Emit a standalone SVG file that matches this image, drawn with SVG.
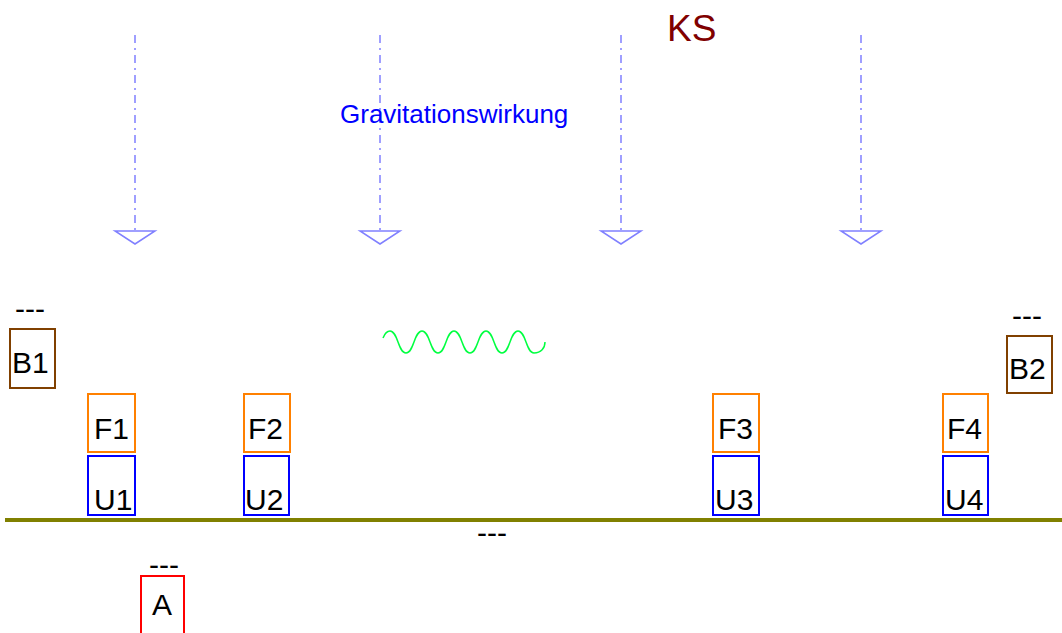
<svg xmlns="http://www.w3.org/2000/svg" width="1062" height="633" viewBox="0 0 1062 633">
<style>
text{font-family:"Liberation Sans",Arial,sans-serif;fill:#000}
.lbl{font-size:30px}
.dash{font-size:30px}
.g{stroke:#8080ff;stroke-width:1.5;fill:none}
.gl{stroke-dasharray:8,5,2,5}
.f{fill:#fff;stroke:#ff8000;stroke-width:2}
.u{fill:#fff;stroke:#0000ff;stroke-width:2}
.b{fill:#fff;stroke:#804000;stroke-width:2}
.a{fill:#fff;stroke:#ff0000;stroke-width:2}
</style>
<rect width="1062" height="633" fill="#fff"/>
<g id="connectors">
<line class="g gl" x1="135" y1="35" x2="135" y2="232"/>
<polygon class="g" points="115,231 155,231 135,244"/>
<line class="g gl" x1="380" y1="35" x2="380" y2="232"/>
<polygon class="g" points="360,231 400,231 380,244"/>
<line class="g gl" x1="621" y1="35" x2="621" y2="232"/>
<polygon class="g" points="601,231 641,231 621,244"/>
<line class="g gl" x1="861" y1="35" x2="861" y2="232"/>
<polygon class="g" points="841,231 881,231 861,244"/>
</g>
<g id="KS"><text x="667" y="41" style="font-size:37px;fill:#800000">KS</text></g>
<g id="gravitation"><text x="340" y="123" style="font-size:26px;fill:#0000ff">Gravitationswirkung</text></g>
<g id="wave"><path d="M383,338 C385,333 387,331 390,331 C398,331 398,353 406,353 C414,353 414,331 422,331 C430,331 430,353 438,353 C446,353 446,331 454,331 C462,331 462,353 470,353 C478,353 478,331 486,331 C494,331 494,353 502,353 C510,353 510,331 518,331 C526,331 526,353 534,353 C541,353 545,348 545,342" fill="none" stroke="#00ff40" stroke-width="1.5"/></g>
<g id="ground">
<line x1="5" y1="520" x2="1062" y2="520" stroke="#808000" stroke-width="4"/>
<text class="dash" x="477" y="543">---</text>
</g>
<g id="B1"><text class="dash" x="15" y="319">---</text><rect class="b" x="10" y="329" width="45" height="59"/><text class="lbl" x="12" y="373">B1</text></g>
<g id="B2"><text class="dash" x="1012" y="326">---</text><rect class="b" x="1007" y="336" width="45" height="57"/><text class="lbl" x="1009" y="379">B2</text></g>
<g id="F1"><rect class="f" x="88" y="394" width="47" height="58"/><text class="lbl" x="94" y="439">F1</text></g>
<g id="U1"><rect class="u" x="88" y="456" width="47" height="59"/><text class="lbl" x="94" y="510">U1</text></g>
<g id="F2"><rect class="f" x="244" y="394" width="46" height="58"/><text class="lbl" x="248" y="439">F2</text></g>
<g id="U2"><rect class="u" x="244" y="456" width="45" height="59"/><text class="lbl" x="245" y="510">U2</text></g>
<g id="F3"><rect class="f" x="713" y="394" width="46" height="58"/><text class="lbl" x="718" y="439">F3</text></g>
<g id="U3"><rect class="u" x="713" y="456" width="46" height="59"/><text class="lbl" x="715" y="510">U3</text></g>
<g id="F4"><rect class="f" x="943" y="394" width="45" height="58"/><text class="lbl" x="947" y="439">F4</text></g>
<g id="U4"><rect class="u" x="943" y="456" width="45" height="59"/><text class="lbl" x="945" y="510">U4</text></g>
<g id="A"><text class="dash" x="149" y="575">---</text><rect class="a" x="141" y="576" width="43" height="70"/><text class="lbl" x="152" y="615">A</text></g>
</svg>
